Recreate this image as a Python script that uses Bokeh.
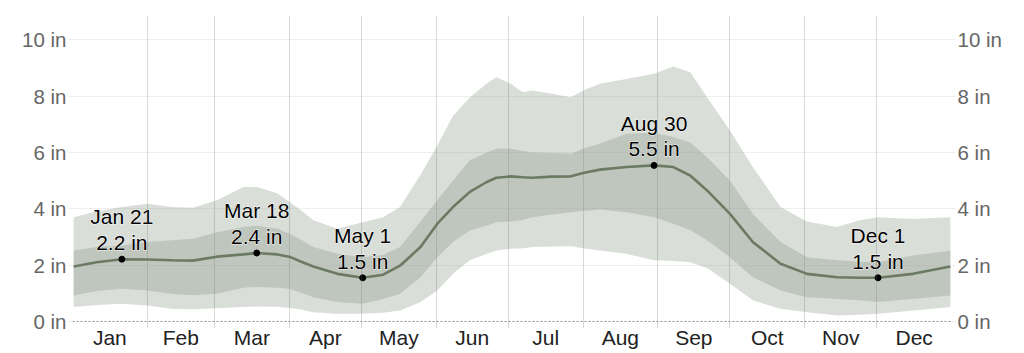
from bokeh.plotting import figure
from bokeh.models import FixedTicker, Range1d, Span, LinearAxis, PrintfTickFormatter, CustomJSTickFormatter
from bokeh.core.properties import value
from bokeh.embed import file_html
from bokeh.resources import INLINE

# ---- data (day of year, inches) ----
days = [0.5, 10, 20.5, 31, 41, 50, 60, 71, 76.5, 85, 90, 95, 100, 110, 120.5, 129, 136, 144.5,
        151.5, 158, 165, 172, 176, 182, 187, 191, 199, 207, 212, 219, 230, 241.5, 249.5, 256.5,
        263.5, 273, 282.5, 294, 305, 317.5, 327, 334.5, 349, 364.5]
p50 = [1.95, 2.1, 2.21, 2.2, 2.17, 2.16, 2.3, 2.38, 2.43, 2.38, 2.3, 2.12, 1.95, 1.69, 1.55, 1.66, 1.98, 2.64,
       3.47, 4.06, 4.6, 4.95, 5.1, 5.15, 5.12, 5.1, 5.14, 5.15, 5.27, 5.39, 5.48, 5.54, 5.48, 5.18,
       4.65, 3.82, 2.82, 2.05, 1.69, 1.57, 1.55, 1.55, 1.69, 1.95]
p75 = [2.52, 2.64, 2.7, 2.82, 2.88, 2.94, 3.17, 3.35, 3.4, 3.3, 3.11, 2.9, 2.64, 2.4, 2.28, 2.36, 2.64, 3.55,
       4.3, 5.0, 5.72, 6.0, 6.13, 6.13, 6.05, 6.01, 5.98, 5.95, 6.13, 6.31, 6.66, 6.7, 6.55, 6.35,
       5.83, 5.0, 3.82, 2.82, 2.28, 2.17, 2.12, 2.1, 2.34, 2.52]
p25 = [0.92, 1.08, 1.16, 1.1, 0.98, 0.93, 0.98, 1.2, 1.22, 1.2, 1.16, 1.02, 0.86, 0.69, 0.63, 0.8, 0.98, 1.57,
       2.28, 2.82, 3.23, 3.41, 3.52, 3.55, 3.6, 3.7, 3.8, 3.88, 3.92, 3.97, 3.88, 3.7, 3.47, 3.25,
       2.88, 2.28, 1.57, 1.1, 0.86, 0.8, 0.75, 0.69, 0.8, 0.92]
p90 = [3.7, 3.9, 4.06, 4.18, 4.06, 4.04, 4.3, 4.77, 4.77, 4.55, 4.25, 3.94, 3.59, 3.29, 3.52, 3.7, 4.06, 5.2,
       6.25, 7.3, 7.95, 8.45, 8.67, 8.44, 8.14, 8.2, 8.08, 7.96, 8.2, 8.44, 8.61, 8.79, 9.05, 8.85,
       7.96, 6.78, 5.48, 4.06, 3.55, 3.35, 3.59, 3.7, 3.64, 3.7]
p10 = [0.51, 0.58, 0.63, 0.57, 0.45, 0.43, 0.47, 0.51, 0.53, 0.52, 0.48, 0.42, 0.33, 0.27, 0.27, 0.31, 0.39, 0.69,
       1.1, 1.69, 2.17, 2.4, 2.52, 2.58, 2.6, 2.64, 2.66, 2.67, 2.6, 2.52, 2.4, 2.17, 2.15, 2.1,
       1.9, 1.34, 0.75, 0.45, 0.33, 0.21, 0.24, 0.27, 0.39, 0.51]

month_names = ["Jan", "Feb", "Mar", "Apr", "May", "Jun", "Jul", "Aug", "Sep", "Oct", "Nov", "Dec"]
month_starts = [0, 31, 59, 90, 120, 151, 181, 212, 243, 273, 304, 334, 365]
month_mids = [(month_starts[i] + month_starts[i + 1]) / 2 for i in range(12)]
y_ticks = [0, 2, 4, 6, 8, 10]

ann_days = [20.5, 76.5, 120.5, 241.5, 334.5]
ann_vals = [2.21, 2.43, 1.55, 5.54, 1.55]
ann_text = ["Jan 21\n2.2 in", "Mar 18\n2.4 in", "May 1\n1.5 in", "Aug 30\n5.5 in", "Dec 1\n1.5 in"]

FONT = "Liberation Sans"

p = figure(width=1024, height=353, output_backend="svg", toolbar_location=None,
           x_range=Range1d(0, 365), y_range=Range1d(-0.25, 10.86),
           min_border_left=72, min_border_right=73, min_border_top=15, min_border_bottom=25)
p.outline_line_color = None

# bands and median
p.varea(x=days, y1=p10, y2=p90, fill_color="#d9ded8")
p.varea(x=days, y1=p25, y2=p75, fill_color="#bfc6bd")
p.line(x=days, y=p50, line_color="#6b7a63", line_width=2.6)

# grids
p.xgrid.ticker = FixedTicker(ticks=month_starts[1:-1])
p.xgrid.grid_line_color = "#777777"
p.xgrid.grid_line_alpha = 0.28
p.xgrid.level = "overlay"
p.ygrid.ticker = FixedTicker(ticks=y_ticks[1:])
p.ygrid.grid_line_color = "#999999"
p.ygrid.grid_line_alpha = 0.16
p.ygrid.level = "overlay"

p.add_layout(Span(location=0, dimension="width", line_color="#8b90a6", line_dash="2 2", line_width=1))

# annotations
dots = p.scatter(x=ann_days, y=ann_vals, size=6, color="black")
dots.level = "overlay"
common = dict(x=ann_days, y=ann_vals, text=ann_text, text_align="center", text_baseline="bottom",
              y_offset=-5, text_font=value(FONT), text_font_size="21px", text_line_height=1.12)
halo = p.text(text_color="white", text_alpha=0.85, text_outline_color="white", **common)
halo.level = "overlay"
txt = p.text(text_color="black", **common)
txt.level = "overlay"

# axes
def style_y(ax):
    ax.ticker = FixedTicker(ticks=y_ticks)
    ax.formatter = PrintfTickFormatter(format="%d in")
    ax.axis_line_color = None
    ax.major_tick_line_color = "#ececec"
    ax.major_tick_out = 4
    ax.major_tick_in = 0
    ax.minor_tick_line_color = None
    ax.major_label_text_font = FONT
    ax.major_label_text_font_size = "20.5px"
    ax.major_label_text_color = "#666666"
    ax.major_label_standoff = 2

style_y(p.yaxis[0])
ry = LinearAxis()
p.add_layout(ry, "right")
style_y(ry)

xa = p.xaxis[0]
xa.ticker = FixedTicker(ticks=month_mids)
xa.formatter = CustomJSTickFormatter(args=dict(mids=month_mids, names=month_names),
                                     code="const i = mids.indexOf(tick); return i >= 0 ? names[i] : '';")
xa.axis_line_color = None
xa.major_tick_line_color = None
xa.minor_tick_line_color = None
xa.major_tick_out = 0
xa.major_tick_in = 0
xa.major_label_standoff = -3
xa.major_label_text_font = FONT
xa.major_label_text_font_size = "21px"
xa.major_label_text_color = "#222222"

open("out.html", "w").write(file_html(p, INLINE))
